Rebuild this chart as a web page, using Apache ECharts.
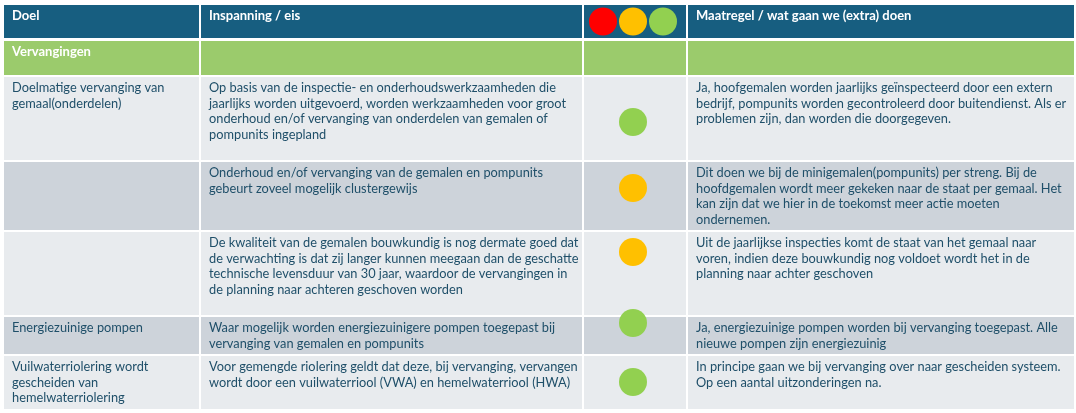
<!DOCTYPE html>
<html>
<head>
<meta charset="utf-8">
<script src="https://cdn.jsdelivr.net/npm/echarts@6/dist/echarts.min.js"></script>
<style>
  html, body { margin: 0; padding: 0; background: #fff; }
  #chart { width: 1076px; height: 413px; }
</style>
</head>
<body>
<div id="chart"></div>
<script>
// tabelinhoud
const headers = ['Doel', 'Inspanning / eis', '', 'Maatregel / wat gaan we (extra) doen'];
const sectionTitle = 'Vervangingen';
const doel = [
  'Doelmatige vervanging van\ngemaal(onderdelen)',
  '',
  '',
  'Energiezuinige pompen',
  'Vuilwaterriolering wordt\ngescheiden van\nhemelwaterriolering'
];
const inspanning = [
  'Op basis van de inspectie- en onderhoudswerkzaamheden die\njaarlijks worden uitgevoerd, worden werkzaamheden voor groot\nonderhoud en/of vervanging van onderdelen van gemalen of\npompunits ingepland',
  'Onderhoud en/of vervanging van de gemalen en pompunits\ngebeurt zoveel mogelijk clustergewijs',
  'De kwaliteit van de gemalen bouwkundig is nog dermate goed dat\nde verwachting is dat zij langer kunnen meegaan dan de geschatte\ntechnische levensduur van 30 jaar, waardoor de vervangingen in\nde planning naar achteren geschoven worden',
  'Waar mogelijk worden energiezuinigere pompen toegepast bij\nvervanging van gemalen en pompunits',
  'Voor gemengde riolering geldt dat deze, bij vervanging, vervangen\nwordt door een vuilwaterriool (VWA) en hemelwaterriool (HWA)'
];
const status = ['groen', 'oranje', 'oranje', 'groen', 'groen'];
const maatregel = [
  'Ja, hoofgemalen worden jaarlijks geïnspecteerd door een extern\nbedrijf, pompunits worden gecontroleerd door buitendienst. Als er\nproblemen zijn, dan worden die doorgegeven.',
  'Dit doen we bij de minigemalen(pompunits) per streng. Bij de\nhoofdgemalen wordt meer gekeken naar de staat per gemaal. Het\nkan zijn dat we hier in de toekomst meer actie moeten\nondernemen.',
  'Uit de jaarlijkse inspecties komt de staat van het gemaal naar\nvoren, indien deze bouwkundig nog voldoet wordt het in de\nplanning naar achter geschoven',
  'Ja, energiezuinige pompen worden bij vervanging toegepast. Alle\nnieuwe pompen zijn energiezuinig',
  'In principe gaan we bij vervanging over naar gescheiden systeem.\nOp een aantal uitzonderingen na.'
];
const legendStatus = ['rood', 'oranje', 'groen'];

// opmaak
const colLeft = [4, 201, 584, 688];
const colRight = [199, 582, 686, 1074];
const rowTop = [5, 41, 77, 162, 232, 317, 356];
const rowBottom = [38, 75, 160, 230, 315, 354, 409];
const dotOffset = [45, 26, 20, 6, 26];
const statusColor = { rood: '#FF0000', oranje: '#FFC000', groen: '#92D050' };
const rowFill = ['#175E80', '#9BCB6C', '#E8EBEE', '#CDD3DA', '#E8EBEE', '#CDD3DA', '#E8EBEE'];
const textColor = '#1F4F69';
const fontFamily = 'Lato, "Noto Sans", sans-serif';

const chart = echarts.init(document.getElementById('chart'), null, { renderer: 'canvas' });

// cellen opbouwen: [kolom, rij, tekst]
const cells = [];
headers.forEach((h, c) => cells.push({ c, r: 0, text: h, bold: true, color: '#fff' }));
for (let c = 0; c < 4; c++) {
  cells.push({ c, r: 1, text: c === 0 ? sectionTitle : '', bold: true, color: '#fff' });
}
doel.forEach((t, i) => {
  const r = i + 2;
  [t, inspanning[i], '', maatregel[i]].forEach((txt, c) => {
    cells.push({ c, r, text: txt, bold: false, color: textColor });
  });
});

const dotX = (colLeft[2] + colRight[2]) / 2 - 2;
const dots = status.map((s, i) => ({
  value: [dotX, rowTop[i + 2] + dotOffset[i]],
  itemStyle: { color: statusColor[s] }
}));
const headerDots = legendStatus.map((s, i) => ({
  value: [dotX + (i - 1) * 30, (rowTop[0] + rowBottom[0]) / 2],
  itemStyle: { color: statusColor[s] }
}));

const option = {
  animation: false,
  grid: { left: 0, right: 0, top: 0, bottom: 0 },
  xAxis: { type: 'value', min: 0, max: 1076, show: false },
  yAxis: { type: 'value', min: 0, max: 413, inverse: true, show: false },
  series: [
    {
      type: 'custom',
      clip: false,
      data: cells.map(d => [d.c, d.r]),
      renderItem: (params, api) => {
        const d = cells[params.dataIndex];
        const p0 = api.coord([colLeft[d.c], rowTop[d.r]]);
        const p1 = api.coord([colRight[d.c], rowBottom[d.r]]);
        return {
          type: 'group',
          children: [
            {
              type: 'rect',
              shape: { x: p0[0], y: p0[1], width: p1[0] - p0[0], height: p1[1] - p0[1] },
              style: { fill: rowFill[d.r] }
            },
            {
              type: 'text',
              style: {
                text: d.text,
                x: p0[0] + 8,
                y: p0[1] + 3,
                fill: d.color,
                font: (d.bold ? 'bold 13px ' : '12.8px ') + fontFamily,
                lineHeight: 15.7,
                verticalAlign: 'top'
              }
            }
          ]
        };
      }
    },
    {
      type: 'scatter',
      symbol: 'circle',
      symbolSize: 28,
      itemStyle: { opacity: 1 },
      data: dots.concat(headerDots),
      z: 5
    }
  ]
};

chart.setOption(option);
</script>
</body>
</html>
